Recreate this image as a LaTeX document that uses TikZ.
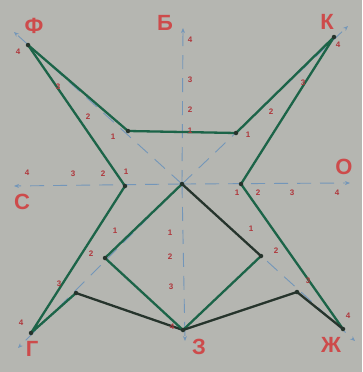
\documentclass[tikz,border=0pt]{standalone}
\usepackage{fontspec}
\setmainfont{Liberation Sans}
\usetikzlibrary{arrows.meta}
\definecolor{bg}{RGB}{181,182,177}
\definecolor{lred}{RGB}{205,75,75}
\definecolor{nred}{RGB}{175,55,60}
\definecolor{gline}{RGB}{28,100,72}
\definecolor{dline}{RGB}{38,52,44}
\definecolor{axblue}{RGB}{115,150,185}
\begin{document}
\begin{tikzpicture}[x=1pt,y=-1pt,
 axis/.style={axblue, line width=0.9pt, dash pattern=on 14pt off 9pt, -{Stealth[length=5pt,width=4pt]}},
 gl/.style={gline, line width=2.3pt, line cap=round, line join=round},
 dl/.style={dline, line width=2.3pt, line cap=round},
 lett/.style={text=lred, font=\fontsize{22}{22}\selectfont\bfseries, inner sep=0pt},
 num/.style={text=nred, font=\fontsize{8}{8}\selectfont\bfseries, inner sep=0pt},
 vdot/.style={circle, fill=dline, inner sep=0pt, minimum size=4.5pt}]
\fill[bg] (0,0) rectangle (362,372);
\useasboundingbox (0,0) rectangle (362,372);
% axis ends
\coordinate (O) at (182,184);
\coordinate (aU) at (183,28);
\coordinate (aD) at (185,341);
\coordinate (aL) at (14,186);
\coordinate (aR) at (350,183);
\coordinate (aUL) at (14,32);
\coordinate (aUR) at (348,26);
\coordinate (aLL) at (18,348);
\coordinate (aLR) at (355,341);
\foreach \e in {aU,aD,aL,aR,aUL,aUR,aLL,aLR} \draw[axis] (O) -- (\e);
% figure points
\coordinate (F4) at (28,45);
\coordinate (B1) at (128,131);
\coordinate (B2) at (236,133);
\coordinate (K4) at (334,37);
\coordinate (C1) at (125,186);
\coordinate (O1) at (241,184);
\coordinate (G2) at (105,258);
\coordinate (G3) at (76,293);
\coordinate (G4) at (31,333);
\coordinate (Z) at (183,330);
\coordinate (J2) at (261,256);
\coordinate (J3) at (297,292);
\coordinate (J4) at (343,329);
% lines
\draw[gl] (F4) -- (B1) -- (B2) -- (K4) -- (O1) -- (J4);
\draw[gl] (F4) -- (C1) -- (G4) -- (G3);
\draw[dl] (G3) -- (Z);
\draw[gl] (O) -- (G2) -- (Z) -- (J2);
\draw[dl] (O) -- (J2);
\draw[dl] (Z) -- (J3);
\draw[dl] (J3) -- (J4);
\foreach \p in {F4,B1,B2,K4,C1,O1,G2,G3,G4,Z,J2,J3,J4,O} \node[vdot] at (\p) {};
% letters
\node[lett] (lF) at (34,26) {Ф};
\node[lett] (lB) at (165,23) {Б};
\node[lett] (lK) at (327,22) {К};
\node[lett] (lC) at (22,202) {С};
\node[lett] (lO) at (344,167) {О};
\node[lett] (lG) at (32,349) {Г};
\node[lett] (lZ) at (199,347) {З};
\node[lett] (lJ) at (331,345) {Ж};
% tick numbers
\foreach \x/\y/\t in {190/40/4,190/80/3,190/110/2,190/131/1,
  170/233/1,170/257/2,171/287/3,172/327/4,
  27/173/4,73/174/3,103/174/2,126/172/1,
  237/193/1,258/193/2,292/193/3,337/193/4,
  18/52/4,58/87/3,88/117/2,113/137/1,
  248/135/1,271/112/2,303/83/3,338/45/4,
  115/231/1,91/254/2,59/284/3,21/323/4,
  251/229/1,276/251/2,308/281/3,348/316/4}
  \node[num] at (\x,\y) {\t};
\end{tikzpicture}
\end{document}
